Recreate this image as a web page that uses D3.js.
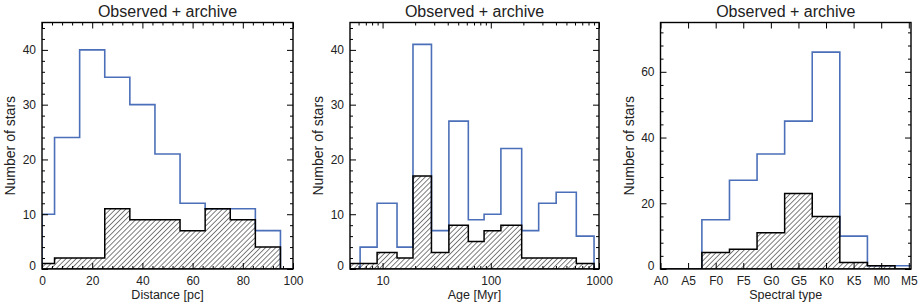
<!DOCTYPE html>
<html>
<head>
<meta charset="utf-8">
<script src="https://cdn.jsdelivr.net/npm/d3@7/dist/d3.min.js"></script>
<style>
  body { margin: 0; background: #fff; }
  text { font-family: "Liberation Sans", Arial, Helvetica, sans-serif; fill: #222; }
</style>
</head>
<body>
<svg id="chart" width="921" height="302"></svg>
<script>
// --- data ---
const distEdges = [0, 5, 15, 25, 35, 45, 55, 65, 75, 85, 95, 100];
const distAll   = [10, 24, 40, 35, 30, 21, 12, 11, 11, 7, 0];
const distObs   = [1, 2, 2, 11, 9, 9, 7, 11, 9, 4, 0];

const ageEdges = [5, 6.2, 8.9, 13.6, 19.1, 28.3, 41, 62, 86.7, 124, 193, 277, 402, 617, 900, 1000];
const ageAll   = [0, 4, 12, 4, 41, 7, 27, 9, 10, 22, 7, 12, 14, 6, 0];
const ageObs   = [1, 1, 3, 2, 17, 3, 8, 5, 7, 8, 2, 2, 2, 1, 0];

const sptLabels = ["A0", "A5", "F0", "F5", "G0", "G5", "K0", "K5", "M0", "M5"];
const sptTicks  = [0, 5, 10, 15, 20, 25, 30, 35, 40, 45];
const sptEdges  = [-2.5, 2.5, 7.5, 12.5, 17.5, 22.5, 27.5, 32.5, 37.5, 42.5, 47.5];
const sptAll    = [0, 0, 15, 27, 35, 45, 66, 10, 1, 1];
const sptObs    = [0, 0, 5, 6, 11, 23, 16, 2, 1, 0];

const title = "Observed + archive";
const blue = "#4b6fb8";

const svg = d3.select("#chart");
const plotTop = 22.5, plotBottom = 269;

// hatch pattern for the observed histogram
svg.append("defs").append("pattern")
  .attr("id", "hatch")
  .attr("patternUnits", "userSpaceOnUse")
  .attr("width", 3.6).attr("height", 3.6)
  .attr("patternTransform", "rotate(45)")
  .append("line")
  .attr("x1", 0).attr("y1", 0).attr("x2", 0).attr("y2", 3.6)
  .attr("stroke", "#000").attr("stroke-width", 1);

function stepPoints(edges, vals) {
  const pts = [[edges[0], 0]];
  vals.forEach((v, i) => {
    pts.push([edges[i], v]);
    pts.push([edges[i + 1], v]);
  });
  pts.push([edges[edges.length - 1], 0]);
  return pts;
}

function panel(id, left, right, x, yMax, opts) {
  const w = right - left, h = plotBottom - plotTop;
  x.range([0, w]);
  const y = d3.scaleLinear().domain([0, yMax]).range([h, 0]);
  const g = svg.append("g").attr("transform", `translate(${left},${plotTop})`);

  g.append("clipPath").attr("id", "clip" + id)
    .append("rect").attr("width", w).attr("height", h);

  const line = d3.line().x(d => x(d[0])).y(d => y(d[1]));
  const plot = g.append("g").attr("clip-path", `url(#clip${id})`);

  plot.append("path")
    .attr("d", line(stepPoints(opts.edges, opts.all)))
    .attr("fill", "none").attr("stroke", blue).attr("stroke-width", 1.6);

  plot.append("path")
    .attr("d", line(stepPoints(opts.edges, opts.obs)) + "Z")
    .attr("fill", "url(#hatch)").attr("stroke", "#000").attr("stroke-width", 1.5);

  // axes: ticks point inward on all four sides
  const tick = (sel) => {
    sel.select(".domain").remove();
    sel.selectAll("line").attr("stroke", "#000").attr("stroke-width", 1);
  };

  const xb = g.append("g").attr("transform", `translate(0,${h})`)
    .call(d3.axisBottom(x).tickValues(opts.xTicks).tickSize(-6).tickPadding(7)
      .tickFormat(opts.xFormat))
    .call(tick);
  xb.selectAll("text").attr("font-size", 12);
  g.append("g").call(d3.axisTop(x).tickValues(opts.xTicks).tickSize(-6).tickFormat(""))
    .call(tick);
  if (opts.xMinor.length) {
    g.append("g").attr("transform", `translate(0,${h})`)
      .call(d3.axisBottom(x).tickValues(opts.xMinor).tickSize(-3).tickFormat("")).call(tick);
    g.append("g").call(d3.axisTop(x).tickValues(opts.xMinor).tickSize(-3).tickFormat(""))
      .call(tick);
  }

  const yl = g.append("g")
    .call(d3.axisLeft(y).tickValues(opts.yTicks).tickSize(-6).tickPadding(6))
    .call(tick);
  yl.selectAll("text").attr("font-size", 12)
    .filter(d => d === 0).attr("y", -3.5);
  g.append("g").attr("transform", `translate(${w},0)`)
    .call(d3.axisRight(y).tickValues(opts.yTicks).tickSize(-6).tickFormat("")).call(tick);
  g.append("g")
    .call(d3.axisLeft(y).tickValues(opts.yMinor).tickSize(-3).tickFormat("")).call(tick);
  g.append("g").attr("transform", `translate(${w},0)`)
    .call(d3.axisRight(y).tickValues(opts.yMinor).tickSize(-3).tickFormat("")).call(tick);

  g.append("rect").attr("width", w).attr("height", h)
    .attr("fill", "none").attr("stroke", "#000").attr("stroke-width", 1.4);

  g.append("text").attr("x", w / 2).attr("y", -6)
    .attr("text-anchor", "middle").attr("font-size", 16).text(title);
  g.append("text").attr("x", w / 2).attr("y", h + 30)
    .attr("text-anchor", "middle").attr("font-size", 12.5).text(opts.xTitle);
  g.append("text")
    .attr("transform", `translate(-27,${h / 2}) rotate(-90)`)
    .attr("text-anchor", "middle").attr("font-size", 14).text("Number of stars");
}

const range = (a, b, s) => d3.range(a, b + 1e-9, s);
const notIn = (arr, maj) => arr.filter(v => !maj.some(m => Math.abs(m - v) < 1e-9));

// Panel 1: distance
const dTicks = [0, 20, 40, 60, 80, 100];
panel(1, 42, 293, d3.scaleLinear().domain([0, 100]), 45, {
  edges: distEdges, all: distAll, obs: distObs,
  xTicks: dTicks, xMinor: notIn(range(0, 100, 4), dTicks), xFormat: d3.format("d"),
  yTicks: [0, 10, 20, 30, 40], yMinor: notIn(range(0, 44, 2), [0, 10, 20, 30, 40]),
  xTitle: "Distance [pc]"
});

// Panel 2: age (log)
const aTicks = [10, 100, 1000];
const aMinor = [6, 7, 8, 9].concat(range(2, 9, 1).map(v => v * 10), range(2, 9, 1).map(v => v * 100));
panel(2, 350, 599, d3.scaleLog().domain([5, 1000]), 45, {
  edges: ageEdges, all: ageAll, obs: ageObs,
  xTicks: aTicks, xMinor: aMinor, xFormat: d3.format("d"),
  yTicks: [0, 10, 20, 30, 40], yMinor: notIn(range(0, 44, 2), [0, 10, 20, 30, 40]),
  xTitle: "Age [Myr]"
});

// Panel 3: spectral type
panel(3, 660.5, 911, d3.scaleLinear().domain([0, 45.4]), 75, {
  edges: sptEdges, all: sptAll, obs: sptObs,
  xTicks: sptTicks, xMinor: [], xFormat: (d, i) => sptLabels[i],
  yTicks: [0, 20, 40, 60], yMinor: notIn(range(0, 72, 4), [0, 20, 40, 60]),
  xTitle: "Spectral type"
});
</script>
</body>
</html>
